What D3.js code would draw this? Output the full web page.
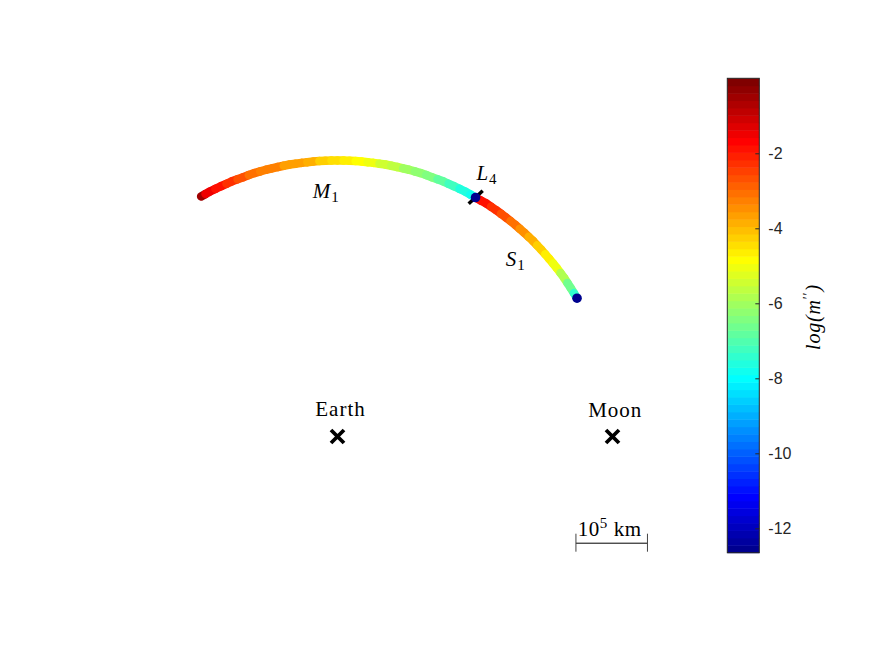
<!DOCTYPE html>
<html>
<head>
<meta charset="UTF-8">
<script src="https://cdn.jsdelivr.net/npm/d3@7"></script>
<style>
  body { margin: 0; background: #fff; }
  .tex { font-family: "Liberation Serif", serif; fill: #000; }
  .tick text { font-family: "Liberation Sans", Arial, sans-serif; font-size: 16px; fill: #262626; }
</style>
</head>
<body>
<div id="chart"></div>
<script>
// positions in Earth-Moon distances, Earth at origin
const m1X = [-0.496, -0.464, -0.424, -0.384, -0.343, -0.302, -0.260, -0.217, -0.174, -0.131, -0.088, -0.044, 0.000,
             0.044, 0.088, 0.131, 0.174, 0.217, 0.260, 0.302, 0.343, 0.384, 0.424, 0.464, 0.502];
const m1Y = [0.873, 0.891, 0.910, 0.928, 0.943, 0.958, 0.970, 0.980, 0.989, 0.995, 1.000, 1.003, 1.004,
             1.003, 1.000, 0.995, 0.989, 0.980, 0.970, 0.958, 0.943, 0.928, 0.910, 0.891, 0.869];
const m1Log = [-0.4, -1.4, -1.85, -2.2, -2.6, -3.0, -3.2, -3.35, -3.6, -3.75, -3.95, -4.2, -4.4,
               -4.6, -4.8, -5.0, -5.4, -5.65, -5.95, -6.25, -6.5, -6.8, -7.2, -7.6, -7.9];

const s1X = [0.502, 0.540, 0.577, 0.612, 0.646, 0.679, 0.711, 0.741, 0.770, 0.798, 0.824, 0.848, 0.871];
const s1Y = [0.869, 0.848, 0.823, 0.797, 0.770, 0.741, 0.711, 0.679, 0.646, 0.612, 0.577, 0.540, 0.503];
const s1Log = [-1.6, -1.9, -2.2, -2.6, -3.0, -3.5, -3.9, -4.3, -4.7, -5.1, -5.8, -6.6, -7.4];

const bodyNames = ["Earth", "Moon"];
const bodyX = [0, 1];
const bodyY = [0, 0];

const dotX = [0.502, 0.871];
const dotY = [0.869, 0.503];

const l4TickX = [0.477, 0.528];
const l4TickY = [0.846, 0.894];

const earthMoonKm = 384400;
const scaleBarKm = 1e5;
const scaleBarStart = [0.867, -0.388];

const cbDomain = [-12.65, 0];
const cbTicks = [-12, -10, -8, -6, -4, -2];

const labels = [
  {t: "M", sub: "1", x: -0.09, y: 0.867, italic: true, anchor: "start"},
  {t: "L", sub: "4", x: 0.505, y: 0.933, italic: true, anchor: "start"},
  {t: "S", sub: "1", x: 0.612, y: 0.62, italic: true, anchor: "start"},
  {t: "Earth", x: 0.011, y: 0.075, anchor: "middle"},
  {t: "Moon", x: 1.01, y: 0.072, anchor: "middle"}
];

// MATLAB jet(64)
function jet(m) {
  const n = Math.ceil(m / 4);
  const u = [];
  for (let i = 1; i <= n; i++) u.push(i / n);
  for (let i = 0; i < n - 1; i++) u.push(1);
  for (let i = n; i >= 1; i--) u.push(i / n);
  const g0 = Math.ceil(n / 2) - (m % 4 === 1 ? 1 : 0);
  const rows = d3.range(m).map(() => [0, 0, 0]);
  u.forEach((v, k) => {
    const gi = g0 + k + 1, ri = gi + n, bi = gi - n;
    if (gi >= 1 && gi <= m) rows[gi - 1][1] = v;
    if (ri >= 1 && ri <= m) rows[ri - 1][0] = v;
    if (bi >= 1 && bi <= m) rows[bi - 1][2] = v;
  });
  return rows.map(c => d3.rgb(c[0] * 255, c[1] * 255, c[2] * 255).formatHex());
}
const jetColors = jet(64);

const width = 875, height = 656;
const svg = d3.select("#chart").append("svg")
  .attr("width", width).attr("height", height);

const x = d3.scaleLinear().domain([0, 1]).range([337.5, 612.5]);
const y = d3.scaleLinear().domain([0, 1]).range([436.5, 161.5]);
const color = d3.scaleQuantize().domain(cbDomain).range(jetColors);

// coloured trajectories: each vertex colours the half segments next to it
function drawTrack(xs, ys, vs) {
  const segs = [];
  for (let i = 0; i < xs.length - 1; i++) {
    const mx = (xs[i] + xs[i + 1]) / 2, my = (ys[i] + ys[i + 1]) / 2;
    segs.push({x1: xs[i], y1: ys[i], x2: mx, y2: my, v: vs[i]});
    segs.push({x1: mx, y1: my, x2: xs[i + 1], y2: ys[i + 1], v: vs[i + 1]});
  }
  svg.append("g").selectAll("line").data(segs).join("line")
    .attr("x1", d => x(d.x1)).attr("y1", d => y(d.y1))
    .attr("x2", d => x(d.x2)).attr("y2", d => y(d.y2))
    .attr("stroke", d => color(d.v))
    .attr("stroke-width", 8.5)
    .attr("stroke-linecap", "round");
}
drawTrack(m1X, m1Y, m1Log);
drawTrack(s1X, s1Y, s1Log);

svg.append("line")
  .attr("x1", x(l4TickX[0])).attr("y1", y(l4TickY[0]))
  .attr("x2", x(l4TickX[1])).attr("y2", y(l4TickY[1]))
  .attr("stroke", "#000").attr("stroke-width", 3.5);

svg.append("g").selectAll("circle").data(dotX).join("circle")
  .attr("cx", d => x(d)).attr("cy", (d, i) => y(dotY[i]))
  .attr("r", 4.8).attr("fill", jetColors[0]);

// Earth and Moon
svg.append("g").selectAll("path").data(bodyX).join("path")
  .attr("d", (d, i) => {
    const cx = x(d), cy = y(bodyY[i]), s = 6.5;
    return `M${cx - s},${cy - s}L${cx + s},${cy + s}M${cx - s},${cy + s}L${cx + s},${cy - s}`;
  })
  .attr("stroke", "#000").attr("stroke-width", 3.8).attr("fill", "none");

// labels
labels.forEach(l => {
  const t = svg.append("text").attr("class", "tex")
    .attr("x", x(l.x)).attr("y", y(l.y))
    .attr("text-anchor", l.anchor)
    .style("font-size", "21px")
    .style("letter-spacing", l.italic ? "0px" : "1px")
    .style("font-style", l.italic ? "italic" : "normal")
    .text(l.t);
  if (l.sub) t.append("tspan").attr("dy", 4).attr("dx", 1).style("font-size", "15px").style("font-style", "normal").text(l.sub);
});

// scale bar
const sbLen = scaleBarKm / earthMoonKm;
const sb = svg.append("g");
const sbY = y(scaleBarStart[1]);
sb.append("line").attr("x1", x(scaleBarStart[0])).attr("x2", x(scaleBarStart[0] + sbLen))
  .attr("y1", sbY).attr("y2", sbY).attr("stroke", "#000").attr("stroke-width", 1);
[scaleBarStart[0], scaleBarStart[0] + sbLen].forEach(v => {
  sb.append("line").attr("x1", x(v)).attr("x2", x(v))
    .attr("y1", sbY - 9.5).attr("y2", sbY + 8.5).attr("stroke", "#444").attr("stroke-width", 1);
});
const sbText = sb.append("text").attr("class", "tex")
  .attr("x", x(scaleBarStart[0] + sbLen / 2) - 2).attr("y", sbY - 7.5)
  .attr("text-anchor", "middle").style("font-size", "21px").style("letter-spacing", "0.5px").text("10");
sbText.append("tspan").attr("dy", -8).style("font-size", "15px").text("5");
sbText.append("tspan").attr("dy", 8).attr("dx", 6).text("km");

// colorbar
const cbX = 727.3, cbW = 32;
const cy = d3.scaleLinear().domain(cbDomain).range([552.7, 78.3]);
const step = (cbDomain[1] - cbDomain[0]) / jetColors.length;
svg.append("g").selectAll("rect").data(jetColors).join("rect")
  .attr("x", cbX).attr("width", cbW)
  .attr("y", (d, i) => cy(cbDomain[0] + (i + 1) * step))
  .attr("height", (d, i) => cy(cbDomain[0] + i * step) - cy(cbDomain[0] + (i + 1) * step) + 0.5)
  .attr("fill", d => d);
svg.append("rect").attr("x", cbX).attr("y", cy(cbDomain[1]))
  .attr("width", cbW).attr("height", cy(cbDomain[0]) - cy(cbDomain[1]))
  .attr("fill", "none").attr("stroke", "#262626").attr("stroke-width", 1);

const cbAxis = svg.append("g")
  .attr("transform", `translate(${cbX + cbW},0)`)
  .call(d3.axisRight(cy).tickValues(cbTicks).tickSizeInner(-4).tickSizeOuter(0).tickPadding(9)
    .tickFormat(d => d < 0 ? "-" + Math.abs(d) : d));
cbAxis.select(".domain").remove();
cbAxis.selectAll(".tick line").attr("stroke", "#262626");

const cbLabel = svg.append("text").attr("class", "tex")
  .attr("transform", "translate(820,317) rotate(-90)")
  .attr("text-anchor", "middle")
  .style("font-size", "20px").style("font-style", "italic").style("letter-spacing", "0.8px")
  .text("log(m");
cbLabel.append("tspan").attr("dy", -7).style("font-size", "14px").style("font-style", "normal").text("\u2032\u2032");
cbLabel.append("tspan").attr("dy", 7).text(")");
</script>
</body>
</html>
